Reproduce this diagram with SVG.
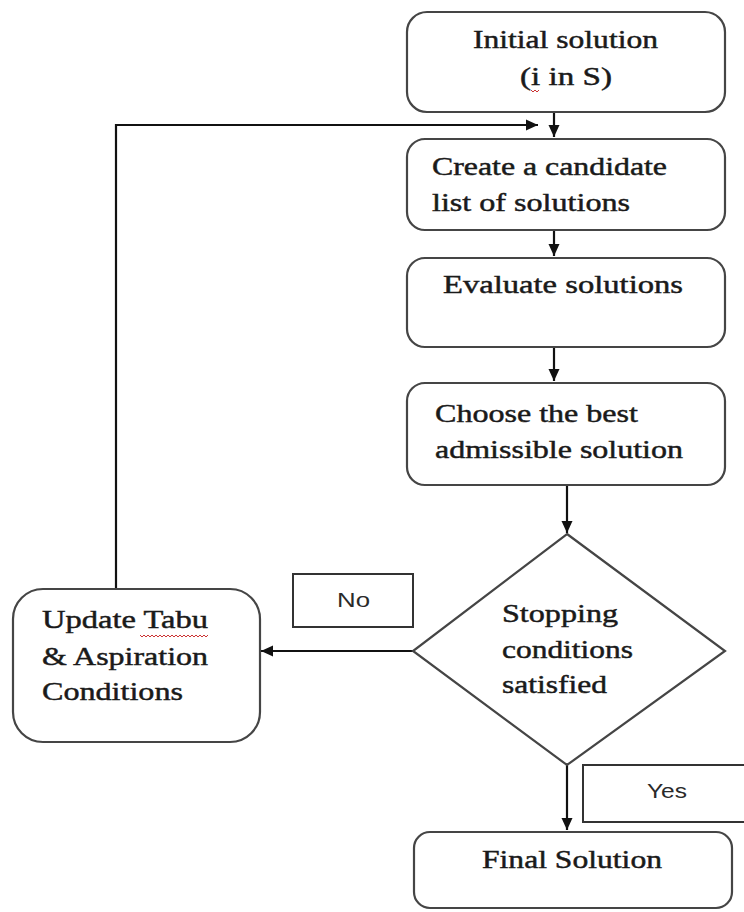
<svg xmlns="http://www.w3.org/2000/svg" width="744" height="912" viewBox="0 0 744 912">
  <style>
    .box { fill: #ffffff; stroke: #454545; stroke-width: 2.2; }
    .lbl { fill: #ffffff; stroke: #333333; stroke-width: 2; }
    .txt { font-family: "Liberation Serif", "Times New Roman", serif; font-size: 25px; fill: #1a1a1a; stroke: #1a1a1a; stroke-width: 0.45; }
    .sans { font-family: "Liberation Sans", Arial, sans-serif; font-size: 21px; fill: #2a2a2a; }
    .edge { fill: none; stroke: #111111; stroke-width: 2.2; }
    .squig { fill: none; stroke: #cc3333; stroke-width: 1; }
  </style>
  <defs>
    <marker id="arrow" viewBox="0 0 12 12" refX="12" refY="6" markerWidth="12" markerHeight="12" markerUnits="userSpaceOnUse" orient="auto">
      <path d="M0,0.5 L12,6 L0,11.5 z" fill="#111111"/>
    </marker>
  </defs>
  <rect width="744" height="912" fill="#ffffff"/>

  <g id="connectors">
    <path class="edge" d="M554,112 V137" marker-end="url(#arrow)"/>
    <path class="edge" d="M116,589 V125 H538" marker-end="url(#arrow)"/>
    <path class="edge" d="M554,230 V256" marker-end="url(#arrow)"/>
    <path class="edge" d="M554,347 V381" marker-end="url(#arrow)"/>
    <path class="edge" d="M567,485 V533" marker-end="url(#arrow)"/>
    <path class="edge" d="M413,651 H261" marker-end="url(#arrow)"/>
    <path class="edge" d="M567,765 V830" marker-end="url(#arrow)"/>
  </g>

  <g id="initial">
    <rect class="box" x="407" y="12" width="318" height="100" rx="20"/>
    <text class="txt" x="473" y="48" textLength="185" lengthAdjust="spacingAndGlyphs">Initial solution</text>
    <text class="txt" x="520" y="85" textLength="92" lengthAdjust="spacingAndGlyphs">(i in S)</text>
    <path class="squig" d="M531,90 l2,2 l2,-2 l2,2 l2,-2"/>
  </g>

  <g id="candidates">
    <rect class="box" x="407" y="139" width="318" height="91" rx="18"/>
    <text class="txt" x="432" y="175" textLength="235" lengthAdjust="spacingAndGlyphs">Create a candidate</text>
    <text class="txt" x="432" y="211" textLength="198" lengthAdjust="spacingAndGlyphs">list of solutions</text>
  </g>

  <g id="evaluate">
    <rect class="box" x="407" y="258" width="318" height="89" rx="18"/>
    <text class="txt" x="443" y="293" textLength="240" lengthAdjust="spacingAndGlyphs">Evaluate solutions</text>
  </g>

  <g id="choose">
    <rect class="box" x="407" y="383" width="318" height="102" rx="18"/>
    <text class="txt" x="435" y="422" textLength="203" lengthAdjust="spacingAndGlyphs">Choose the best</text>
    <text class="txt" x="435" y="458" textLength="248" lengthAdjust="spacingAndGlyphs">admissible solution</text>
  </g>

  <g id="stopping">
    <polygon class="box" points="567,534 725,651 567,765 413,651"/>
    <text class="txt" x="502" y="622" textLength="116" lengthAdjust="spacingAndGlyphs">Stopping</text>
    <text class="txt" x="502" y="658" textLength="131" lengthAdjust="spacingAndGlyphs">conditions</text>
    <text class="txt" x="502" y="693" textLength="105" lengthAdjust="spacingAndGlyphs">satisfied</text>
  </g>

  <g id="update">
    <rect class="box" x="13" y="589" width="247" height="153" rx="30"/>
    <text class="txt" x="42" y="628" textLength="166" lengthAdjust="spacingAndGlyphs">Update Tabu</text>
    <path class="squig" d="M140,635 l2,2 l2,-2 l2,2 l2,-2 l2,2 l2,-2 l2,2 l2,-2 l2,2 l2,-2 l2,2 l2,-2 l2,2 l2,-2 l2,2 l2,-2 l2,2 l2,-2 l2,2 l2,-2 l2,2 l2,-2 l2,2 l2,-2 l2,2 l2,-2 l2,2 l2,-2 l2,2 l2,-2 l2,2 l2,-2 l2,2 l2,-2"/>
    <text class="txt" x="42" y="665" textLength="166" lengthAdjust="spacingAndGlyphs">&amp; Aspiration</text>
    <text class="txt" x="42" y="700" textLength="141" lengthAdjust="spacingAndGlyphs">Conditions</text>
  </g>

  <g id="label-no">
    <rect class="lbl" x="293" y="574" width="120" height="53"/>
    <text class="sans" x="337" y="607" textLength="33" lengthAdjust="spacingAndGlyphs">No</text>
  </g>

  <g id="label-yes">
    <rect class="lbl" x="583" y="765" width="170" height="57"/>
    <text class="sans" x="647" y="798" textLength="40" lengthAdjust="spacingAndGlyphs">Yes</text>
  </g>

  <g id="final">
    <rect class="box" x="414" y="832" width="318" height="76" rx="16"/>
    <text class="txt" x="482" y="868" textLength="180" lengthAdjust="spacingAndGlyphs">Final Solution</text>
  </g>
</svg>
